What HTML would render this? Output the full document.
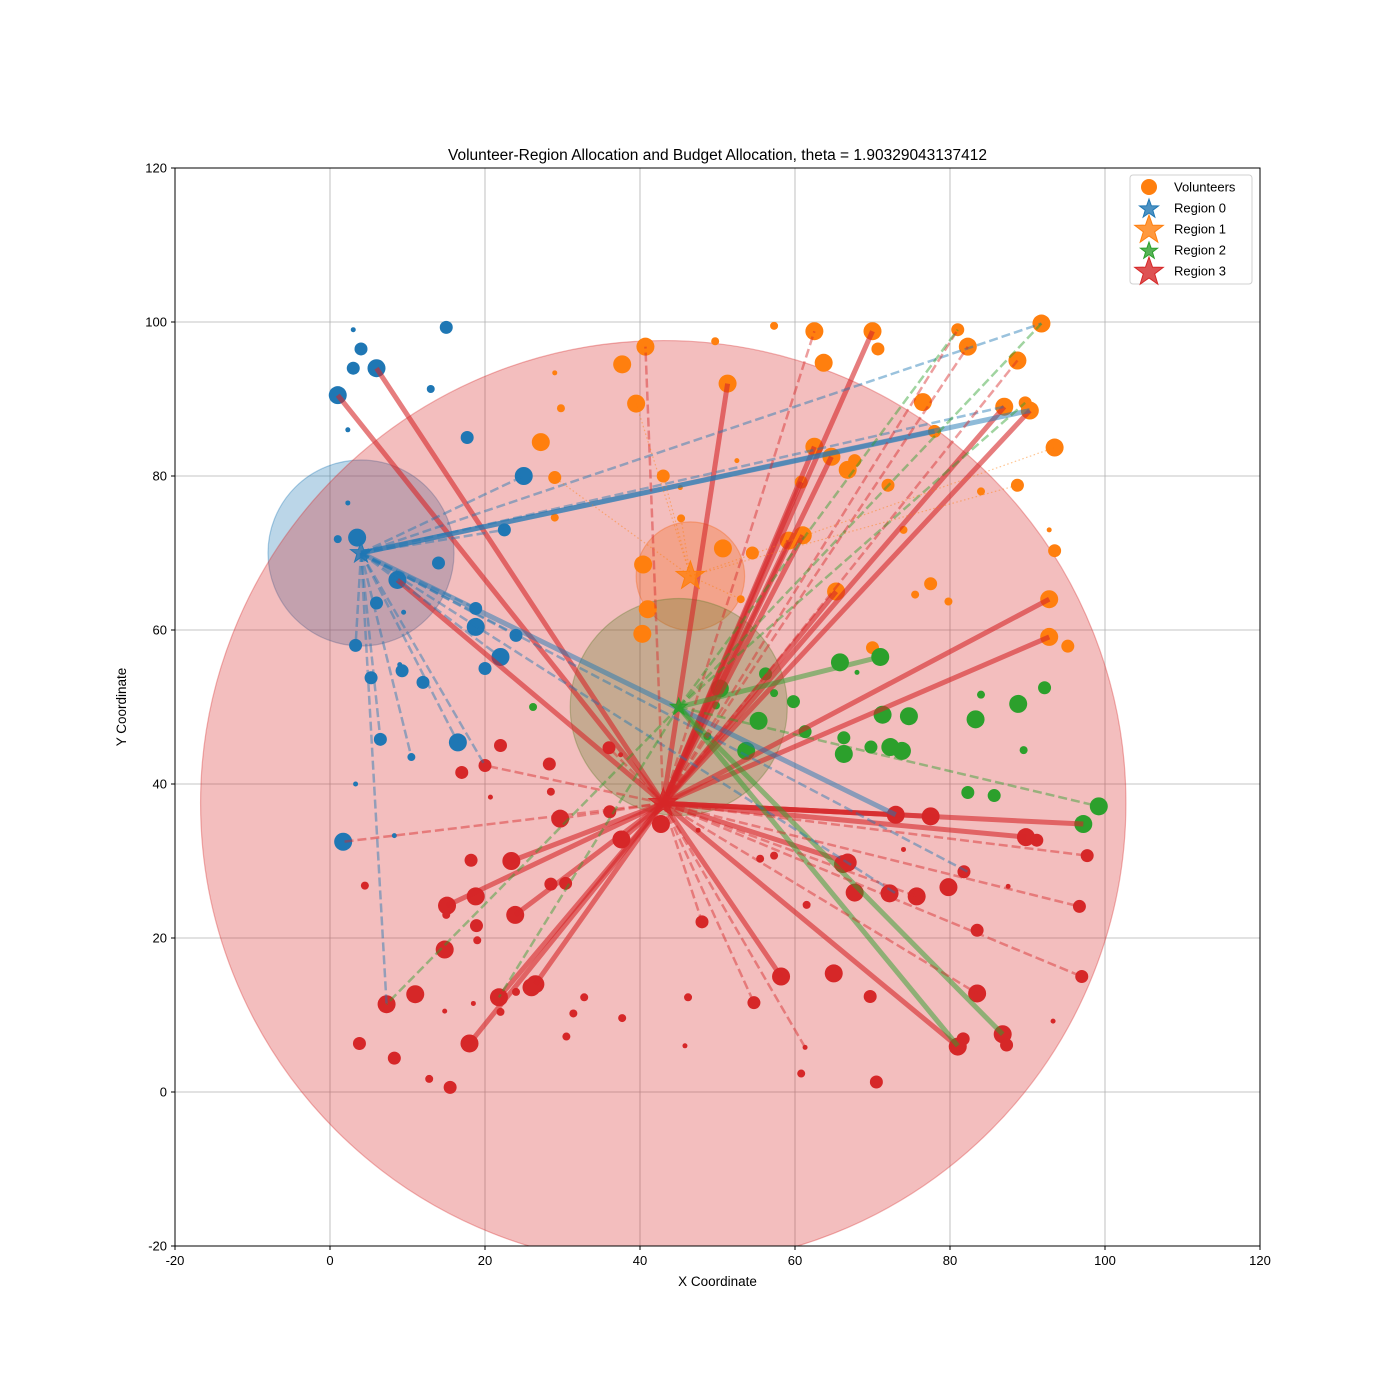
<!DOCTYPE html>
<html><head><meta charset="utf-8"><style>
html,body{margin:0;padding:0;background:#fff;}
svg{display:block;font-family:"Liberation Sans","DejaVu Sans",sans-serif;}
</style></head><body>
<svg id="chart" width="1400" height="1400"></svg>
<script>
const COLORS=['#1f77b4','#ff7f0e','#2ca02c','#d62728'];
const xTicks=[-20,0,20,40,60,80,100,120];
const yTicks=[-20,0,20,40,60,80,100,120];
const regionX=[4,46.5,45,43];
const regionY=[70,67,50,37.5];
const regionRadius=[12,7,14,59.7];
const sz={b:9,m:6.5,s:4,t:2.5};
const volX=[],volY=[],volS=[],volC=[];
const volRaw=[
[1,90.5,'b',0],[3,94,'m',0],[4,96.5,'m',0],[6,94,'b',0],[3,99,'t',0],[15,99.3,'m',0],[13,91.3,'s',0],[2.3,86,'t',0],[17.7,85,'m',0],[25,80,'b',0],[2.3,76.5,'t',0],[22.5,73,'m',0],[3.5,72,'b',0],[1,71.8,'s',0],[14,68.7,'m',0],[8.7,66.5,'b',0],[6,63.5,'m',0],[9.5,62.3,'t',0],[18.8,62.8,'m',0],[18.8,60.4,'b',0],[24,59.3,'m',0],[3.3,58,'m',0],[22,56.5,'b',0],[20,55,'m',0],[9.3,54.7,'m',0],[9,55.5,'t',0],[5.3,53.8,'m',0],[12,53.2,'m',0],[16.5,45.4,'b',0],[6.5,45.8,'m',0],[10.5,43.5,'s',0],[3.3,40,'t',0],[1.7,32.5,'b',0],[8.3,33.3,'t',0],
[40.7,96.8,'b',1],[37.7,94.5,'b',1],[49.7,97.5,'s',1],[57.3,99.5,'s',1],[62.5,98.8,'b',1],[70,98.8,'b',1],[81,99,'m',1],[91.8,99.8,'b',1],[82.3,96.8,'b',1],[63.7,94.7,'b',1],[70.7,96.5,'m',1],[88.7,95,'b',1],[29,93.4,'t',1],[51.3,92,'b',1],[39.5,89.4,'b',1],[29.8,88.8,'s',1],[76.5,89.6,'b',1],[87,89,'b',1],[90.3,88.5,'b',1],[89.7,89.5,'m',1],[78,85.8,'m',1],[27.2,84.4,'b',1],[62.5,83.8,'b',1],[93.5,83.7,'b',1],[64.7,82.5,'b',1],[67.7,82,'m',1],[66.8,80.8,'b',1],[43,80,'m',1],[29,79.8,'m',1],[60.8,79.2,'m',1],[72,78.8,'m',1],[88.7,78.8,'m',1],[84,78,'s',1],[52.5,82,'t',1],[45.2,78.5,'t',1],[45.3,74.5,'s',1],[29,74.6,'s',1],[74,73,'s',1],[92.8,73,'t',1],[50.7,70.6,'b',1],[61,72.3,'b',1],[59.2,71.6,'b',1],[54.5,70,'m',1],[93.5,70.3,'m',1],[40.4,68.5,'b',1],[77.5,66,'m',1],[65.3,65,'b',1],[75.5,64.6,'s',1],[53,64,'s',1],[79.8,63.7,'s',1],[92.8,64,'b',1],[41,62.7,'b',1],[40.3,59.5,'b',1],[92.8,59.1,'b',1],[95.2,57.9,'m',1],[70,57.7,'m',1],
[65.8,55.8,'b',2],[71,56.5,'b',2],[56.2,54.3,'m',2],[68,54.5,'t',2],[50.3,52.4,'b',2],[57.3,51.8,'s',2],[49.8,50.2,'s',2],[59.8,50.7,'m',2],[26.2,50,'s',2],[84,51.6,'s',2],[92.2,52.5,'m',2],[88.8,50.4,'b',2],[71.3,49,'b',2],[74.7,48.8,'b',2],[55.3,48.2,'b',2],[83.3,48.4,'b',2],[61.3,46.8,'m',2],[48.7,46.2,'s',2],[66.3,46,'m',2],[53.7,44.3,'b',2],[66.3,43.9,'b',2],[69.8,44.8,'m',2],[72.3,44.8,'b',2],[73.8,44.3,'b',2],[89.5,44.4,'s',2],[82.3,38.9,'m',2],[85.7,38.5,'m',2],[99.2,37.1,'b',2],[97.2,34.8,'b',2],
[22,45,'m',3],[17,41.5,'m',3],[20,42.4,'m',3],[28.3,42.6,'m',3],[36,44.7,'m',3],[37.5,43.8,'t',3],[20.7,38.3,'t',3],[28.5,39,'s',3],[36.1,36.4,'m',3],[29.7,35.5,'b',3],[37.6,32.8,'b',3],[42.7,34.8,'b',3],[47.5,34,'t',3],[18.2,30.1,'m',3],[23.4,30,'b',3],[4.5,26.8,'s',3],[15.1,24.2,'b',3],[18.8,25.4,'b',3],[28.5,27,'m',3],[30.4,27.1,'m',3],[15,23,'s',3],[23.9,23,'b',3],[18.9,21.6,'m',3],[19,19.7,'s',3],[14.8,18.5,'b',3],[48,22.1,'m',3],[55.5,30.3,'s',3],[57.3,30.7,'s',3],[61.5,24.3,'s',3],[66.2,29.6,'b',3],[66.8,29.8,'b',3],[67.7,25.9,'b',3],[72.2,25.8,'b',3],[75.7,25.4,'b',3],[73,36,'b',3],[77.5,35.8,'b',3],[81.8,28.6,'m',3],[79.8,26.6,'b',3],[89.8,33.1,'b',3],[91.2,32.7,'m',3],[74,31.5,'t',3],[87.5,26.7,'t',3],[97.7,30.7,'m',3],[96.7,24.1,'m',3],[83.5,21,'m',3],[58.2,15,'b',3],[65,15.4,'b',3],[69.7,12.4,'m',3],[83.5,12.8,'b',3],[97,15,'m',3],[86.8,7.5,'b',3],[87.3,6.1,'m',3],[81.7,6.9,'m',3],[81,5.9,'b',3],[93.3,9.2,'t',3],[70.5,1.3,'m',3],[60.8,2.4,'s',3],[61.3,5.8,'t',3],[54.7,11.6,'m',3],[46.2,12.3,'s',3],[45.8,6,'t',3],[37.7,9.6,'s',3],[32.8,12.3,'s',3],[31.4,10.2,'s',3],[30.5,7.2,'s',3],[26.5,14,'b',3],[26,13.6,'b',3],[24,13,'s',3],[21.8,12.3,'b',3],[22,10.4,'s',3],[18.5,11.5,'t',3],[14.8,10.5,'t',3],[18,6.3,'b',3],[11,12.7,'b',3],[7.3,11.4,'b',3],[3.8,6.3,'m',3],[8.3,4.4,'m',3],[12.8,1.7,'s',3],[15.5,0.6,'m',3]
];
volRaw.forEach(v=>{volX.push(v[0]);volY.push(v[1]);volS.push(v[2]);volC.push(v[3]);});
const linkX=[1,6,8.7,51.3,70,62.5,64.7,87,90.3,92.8,92.8,61,59.2,73,77.5,97.2,89.8,81,18,21.8,26.5,15.1,23.4,37.6,23.9,58.2,66.8,65.3,60.8,
 90.3,73,78,
 71,86.8,81,
 25,22.5,16.5,6.5,7.3,3.3,10.5,18.8,22,24,82.3,91.8,87,73,20,
 40.7,62.5,81,82.3,88.7,54.7,48,61.3,97,96.7,97.7,83.5,1.7,29.7,20,36,75.7,
 91.8,89.7,81,7.3,21.8,99.2,
 39.5,43,29,45.3,53,88.7,93.5];
const linkY=[90.5,94,66.5,92,98.8,83.8,82.5,89,88.5,64,59.1,72.3,71.6,36,35.8,34.8,33.1,5.9,6.3,12.3,14,24.2,30,32.8,23,15,29.8,65,79.2,
 88.5,36,85.8,
 56.5,7.5,6,
 80,73,45.4,45.8,11.4,58,43.5,62.8,56.5,59.3,28.6,99.8,89,25.8,42.4,
 96.8,98.8,99,96.8,95,11.6,22.1,5.8,15,24.1,30.7,12.8,32.5,35.5,42.4,44.7,25.4,
 99.8,89.5,99,11.4,12.3,37.1,
 89.4,80,79.8,74.5,64,78.8,83.7];
const linkR=[3,3,3,3,3,3,3,3,3,3,3,3,3,3,3,3,3,3,3,3,3,3,3,3,3,3,3,3,3,
 0,0,0,
 2,2,2,
 0,0,0,0,0,0,0,0,0,0,0,0,0,0,0,
 3,3,3,3,3,3,3,3,3,3,3,3,3,3,3,3,3,
 2,2,2,2,2,2,
 1,1,1,1,1,1,1];
const linkS=[0,0,0,0,0,0,0,0,0,0,0,0,0,0,0,0,0,0,0,0,0,0,0,0,0,0,0,0,0,
 0,0,0,
 0,0,0,
 1,1,1,1,1,1,1,1,1,1,1,1,1,1,1,
 1,1,1,1,1,1,1,1,1,1,1,1,1,1,1,1,1,
 1,1,1,1,1,1,
 2,2,2,2,2,2,2];

const NS='http://www.w3.org/2000/svg';
const svg=document.getElementById('chart');
const L=175,R=1260,T=168,B=1246;
const xs=v=>L+(v+20)/140*(R-L);
const ys=v=>B-(v+20)/140*(B-T);
const pxPerUnit=(R-L)/140;
function mk(tag,attrs,parent){const e=document.createElementNS(NS,tag);for(const k in attrs)e.setAttribute(k,attrs[k]);(parent||svg).appendChild(e);return e;}

const defs=mk('defs',{});
const cp=mk('clipPath',{id:'clip'},defs);
mk('rect',{x:L,y:T,width:R-L,height:B-T},cp);

const grid=mk('g',{});


xTicks.forEach(t=>{mk('line',{x1:xs(t),x2:xs(t),y1:T,y2:B,stroke:'#b0b0b0','stroke-width':0.8},grid);});
yTicks.forEach(t=>{mk('line',{x1:L,x2:R,y1:ys(t),y2:ys(t),stroke:'#b0b0b0','stroke-width':0.8},grid);});

const plot=mk('g',{'clip-path':'url(#clip)'});



regionX.forEach((rx,i)=>{
  const c=mk('circle',{cx:xs(rx),cy:ys(regionY[i]),r:regionRadius[i]*pxPerUnit,fill:COLORS[i],'fill-opacity':0.3,stroke:COLORS[i],'stroke-opacity':0.35,'stroke-width':1.2},plot);
  
  
});

volX.forEach((vx,i)=>{
  const c=mk('circle',{cx:xs(vx),cy:ys(volY[i]),r:sz[volS[i]],fill:COLORS[volC[i]]},plot);
  
  
});

linkX.forEach((lx,i)=>{
  const r=linkR[i],s=linkS[i];
  const a={x1:xs(regionX[r]),y1:ys(regionY[r]),x2:xs(lx),y2:ys(linkY[i]),stroke:COLORS[r],'stroke-linecap':'butt'};
  if(s===0){a['stroke-width']=5;a['stroke-opacity']=(r===3?0.6:0.5);}
  else if(s===1){a['stroke-width']=2.5;a['stroke-opacity']=0.45;a['stroke-dasharray']='9,4';}
  else {a['stroke-width']=1.2;a['stroke-opacity']=0.45;a['stroke-dasharray']='1.5,2.5';}
  const l=mk('line',a,plot);
  
  
});

function starPath(cx,cy,ro){const ri=ro*0.4;let d='';for(let k=0;k<10;k++){const r=k%2?ri:ro;const a=-Math.PI/2+k*Math.PI/5;d+=(k?'L':'M')+(cx+r*Math.cos(a)).toFixed(2)+','+(cy+r*Math.sin(a)).toFixed(2);}return d+'Z';}
const starSize=[11,15,9,15];
regionX.forEach((rx,i)=>{
  const p=mk('path',{d:starPath(xs(rx),ys(regionY[i]),starSize[i]),fill:COLORS[i],'fill-opacity':0.8,stroke:COLORS[i],'stroke-width':1},plot);
  
  
});

const fr=mk('rect',{x:L,y:T,width:R-L,height:B-T,fill:'none',stroke:'#000','stroke-width':1});



xTicks.forEach(t=>{
  mk('line',{x1:xs(t),x2:xs(t),y1:B,y2:B+4,stroke:'#000'});
  const tx=mk('text',{x:xs(t),y:B+19,'text-anchor':'middle','font-size':13});tx.textContent=t;
  
  
});
yTicks.forEach(t=>{
  mk('line',{x1:L-4,x2:L,y1:ys(t),y2:ys(t),stroke:'#000'});
  const tx=mk('text',{x:L-8,y:ys(t)+4.5,'text-anchor':'end','font-size':13});tx.textContent=t;
  
  
});

const title=mk('text',{x:(L+R)/2,y:160,'text-anchor':'middle','font-size':15.5});
title.textContent='Volunteer-Region Allocation and Budget Allocation, theta = 1.90329043137412';


const xl=mk('text',{x:(L+R)/2,y:1286,'text-anchor':'middle','font-size':13.5});
xl.textContent='X Coordinate';


const yl=mk('text',{x:126,y:(T+B)/2,'text-anchor':'middle','font-size':13.5,transform:'rotate(-90 126 '+((T+B)/2)+')'});
yl.textContent='Y Coordinate';



const lg=mk('g',{});


mk('rect',{x:1130,y:175,width:122,height:109,rx:3,fill:'#fff','fill-opacity':0.85,stroke:'#d0d0d0'},lg);
const legLabels=['Volunteers','Region 0','Region 1','Region 2','Region 3'];
legLabels.forEach((lab,k)=>{
  const y=187+k*21;
  if(k===0){mk('circle',{cx:1149,cy:y,r:8,fill:COLORS[1]},lg);}
  else{const s=[0,10,15,9,15][k];mk('path',{d:starPath(1149,y+1,s),fill:COLORS[k-1],'fill-opacity':0.8,stroke:COLORS[k-1]},lg);}
  const t=mk('text',{x:1174,y:y+4.5,'font-size':13},lg);t.textContent=lab;
  
  
});
</script>
</body></html>
